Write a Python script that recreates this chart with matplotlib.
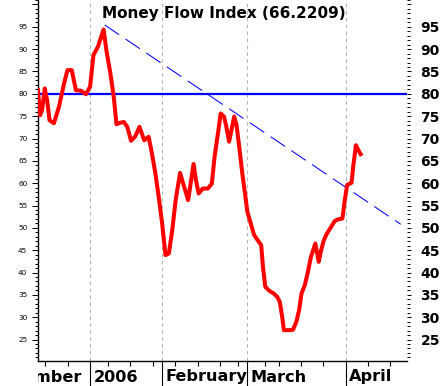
"""
Money Flow Index chart with overbought line and falling trend line.
"""

import matplotlib
matplotlib.use('Agg')
import matplotlib.pyplot as plt
from matplotlib.ticker import MultipleLocator
from matplotlib.transforms import Bbox, TransformedBbox, offset_copy

plt.rcParams['font.family'] = ['DejaVu Sans']
plt.rcParams['lines.scale_dashes'] = False

# MFI readings (x = trading-day position from the left edge)
mfi_day = [0.0, 0.45, 0.91, 1.51, 2.04, 2.57, 3.55, 4.68, 5.82, 6.57,
           7.55, 8.46, 9.59, 10.72, 11.63, 12.39, 13.37, 14.12, 14.65, 15.26,
           16.16, 16.92, 17.52, 18.28, 19.18, 19.94, 20.77, 21.68, 22.66, 23.72,
           24.70, 25.45, 26.21, 26.96, 27.72, 28.47, 29.23, 29.98, 30.74, 31.72,
           32.63, 33.53, 34.14, 34.74, 35.27, 35.88, 36.78, 37.92, 38.82, 39.43,
           40.18, 40.79, 41.54, 42.07, 42.67, 43.20, 43.81, 44.34, 44.94, 45.62,
           46.22, 46.75, 47.51, 48.26, 49.09, 49.85, 50.23, 50.76, 51.66, 52.64,
           53.40, 54.00, 54.53, 54.91, 55.89, 56.95, 57.70, 58.31, 58.84, 59.59,
           60.20, 60.95, 61.93, 62.69, 63.22, 63.82, 64.50, 65.26, 66.24, 66.99,
           67.98, 68.50, 69.03, 70.02, 70.39, 70.99, 71.53, 72.05]
mfi_value = [80.8, 75.2, 76.3, 81.2, 78.6, 74.1, 73.4, 77.1, 82.3, 85.3,
             85.3, 80.8, 80.7, 79.9, 81.6, 88.7, 90.5, 92.8, 94.4, 89.8,
             84.6, 79.3, 73.2, 73.5, 73.7, 72.6, 69.5, 70.4, 72.6, 69.6,
             70.4, 66.6, 62.2, 56.9, 51.0, 43.9, 44.3, 49.5, 56.2, 62.3,
             59.2, 56.2, 60.3, 64.3, 60.7, 57.7, 58.8, 58.8, 59.9, 65.9,
             71.1, 75.6, 74.9, 72.6, 69.3, 71.9, 74.9, 73.0, 68.1, 62.2,
             57.7, 53.6, 51.0, 48.4, 47.2, 46.1, 41.3, 36.8, 35.9, 35.3,
             34.6, 33.4, 30.1, 27.1, 27.1, 27.2, 29.0, 31.6, 35.3, 37.2,
             39.8, 43.5, 46.5, 42.4, 45.0, 47.2, 48.7, 49.9, 51.5, 51.9,
             52.1, 56.2, 59.6, 60.1, 63.7, 68.5, 67.4, 66.5]

trend_day = [14.9, 81.0]
trend_value = [95.4, 50.8]
overbought = 80

week_ticks = [1.65, 6.61, 15.63, 20.59, 25.77, 30.51, 35.70, 40.66, 44.72,
              50.58, 53.74, 58.70, 63.66, 73.58, 78.54]
month_starts = [11.7, 27.7, 46.7, 68.8]
month_labels = ["2006", "February", "March", "April"]
prev_month_label = "December"
prev_month_end = 9.9

title_text = "Money Flow Index (66.2209)"

fig = plt.figure(figsize=(4.46, 3.86), dpi=100)
ax = fig.add_axes([38 / 446, 25 / 386, 369 / 446, 361 / 386])
ax.set_xlim(0, 82.4)
ax.set_ylim(20.2, 101.0)

# dashed month grid
for d in month_starts:
    ax.axvline(d, color="#b4b4b4", lw=0.8, dashes=(2.5, 2.5), zorder=1)

ax.axhline(overbought, color="#0000ff", lw=1.6, zorder=2)
ax.plot(trend_day, trend_value, color="#0000ff", lw=0.75, dashes=(12.5, 5.5), zorder=2)
ax.plot(mfi_day, mfi_value, color="#ff0000", lw=2.9, zorder=3)

# spines
for side in ("top", "right"):
    ax.spines[side].set_visible(False)
ax.spines["left"].set_linewidth(1.0)
ax.spines["bottom"].set_linewidth(1.0)

# x ticks: weekly, no labels
ax.set_xticks(week_ticks)
ax.tick_params(axis="x", direction="out", length=3.6, width=0.8, labelbottom=False)

# month separators below the axis
sep_trans = ax.get_xaxis_transform()
for d in month_starts:
    ax.plot([d, d], [0, -25 / 361], color="black", lw=0.8, transform=sep_trans, clip_on=False)

label_y = -20.5 / 361
for d, lab in zip(month_starts, month_labels):
    ax.text(d, label_y, lab, transform=offset_copy(sep_trans, fig=fig, x=2.2, units="points"),
            ha="left", va="baseline", fontsize=11.6, fontweight="bold")

prev = ax.text(prev_month_end, label_y, prev_month_label, transform=sep_trans,
               ha="right", va="baseline", fontsize=11.6, fontweight="bold", clip_on=True)
prev.set_clip_box(TransformedBbox(Bbox([[0, -1], [1, 0]]), ax.transAxes))

# left y axis: tiny labels
major_y = list(range(25, 101, 5))
ax.set_yticks(major_y)
ax.set_yticklabels([str(v) if v < 100 else "" for v in major_y])
ax.yaxis.set_minor_locator(MultipleLocator(1))
ax.tick_params(axis="y", which="major", direction="out", length=4.3, width=0.7,
               labelsize=5.2, pad=3.4)
ax.tick_params(axis="y", which="minor", direction="out", length=2.2, width=0.7)

# right y axis: bold labels
ax2 = ax.twinx()
ax2.set_ylim(ax.get_ylim())
for s in ax2.spines.values():
    s.set_visible(False)
ax2.set_yticks(major_y)
ax2.set_yticklabels([str(v) if v < 100 else "" for v in major_y])
ax2.yaxis.set_minor_locator(MultipleLocator(1))
ax2.tick_params(axis="y", which="major", direction="out", length=3.2, width=0.7,
                labelsize=10, pad=6.5)
ax2.tick_params(axis="y", which="minor", direction="out", length=2.2, width=0.7)
for t in ax2.get_yticklabels():
    t.set_fontweight("bold")

ax.text(0.504, 1 - 18 / 361, title_text, transform=ax.transAxes,
        ha="center", va="baseline", fontsize=11, fontweight="bold", zorder=5)

fig.savefig("out.png", dpi=100)
